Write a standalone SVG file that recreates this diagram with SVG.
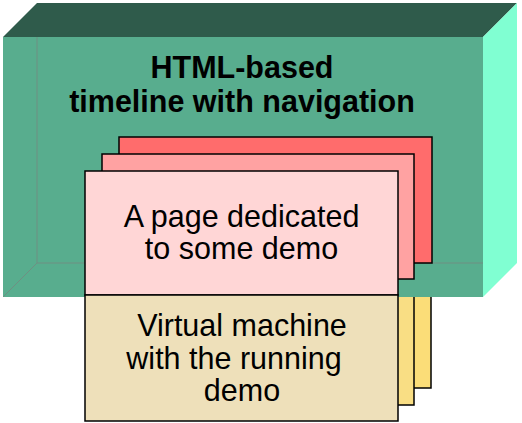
<svg xmlns="http://www.w3.org/2000/svg" width="522" height="423" viewBox="0 0 522 423">
<style>
.pg{stroke:#000;stroke-width:1.5}
.t{font-family:"Liberation Sans",Arial,sans-serif;font-size:30.5px;fill:#000;text-anchor:middle}
.tb{font-weight:bold}
.hid{fill:none;stroke:#6f8f82;stroke-width:1}
</style>
<rect width="522" height="423" fill="#fff"/>
<g id="vm-back">
<rect class="pg" x="119" y="200" width="312" height="188" fill="#FBDD78"/>
<rect class="pg" x="102" y="217" width="312" height="188" fill="#F9DE84"/>
</g>
<g id="timeline-box">
<polygon points="3,37 37,3 517,3 483,37" fill="#2F5B4B"/>
<polygon points="483,37 517,3 517,263 483,297" fill="#80FFD2"/>
<rect x="3" y="37" width="480" height="260" fill="#58AD8E"/>
<path class="hid" d="M37,37 V263 H483 M37,263 L3,297"/>
<text class="t tb" x="242" y="78">HTML-based</text>
<text class="t tb" x="242" y="112">timeline with navigation</text>
</g>
<g id="pages">
<rect class="pg" x="119" y="137" width="313" height="126" fill="#FF6C6C"/>
<rect class="pg" x="102" y="154" width="312" height="125" fill="#FFA2A2"/>
</g>
<g id="page">
<rect class="pg" x="85" y="171" width="313" height="124" fill="#FFD6D6"/>
<text class="t" x="241.5" y="227">A page dedicated</text>
<text class="t" x="241.5" y="259">to some demo</text>
</g>
<g id="vm">
<rect class="pg" x="85" y="295" width="313" height="126" fill="#EEE0BA"/>
<text class="t" x="242" y="336">Virtual machine</text>
<text class="t" x="234" y="369">with the running</text>
<text class="t" x="242" y="401">demo</text>
</g>
<g id="connectors"/>
</svg>
